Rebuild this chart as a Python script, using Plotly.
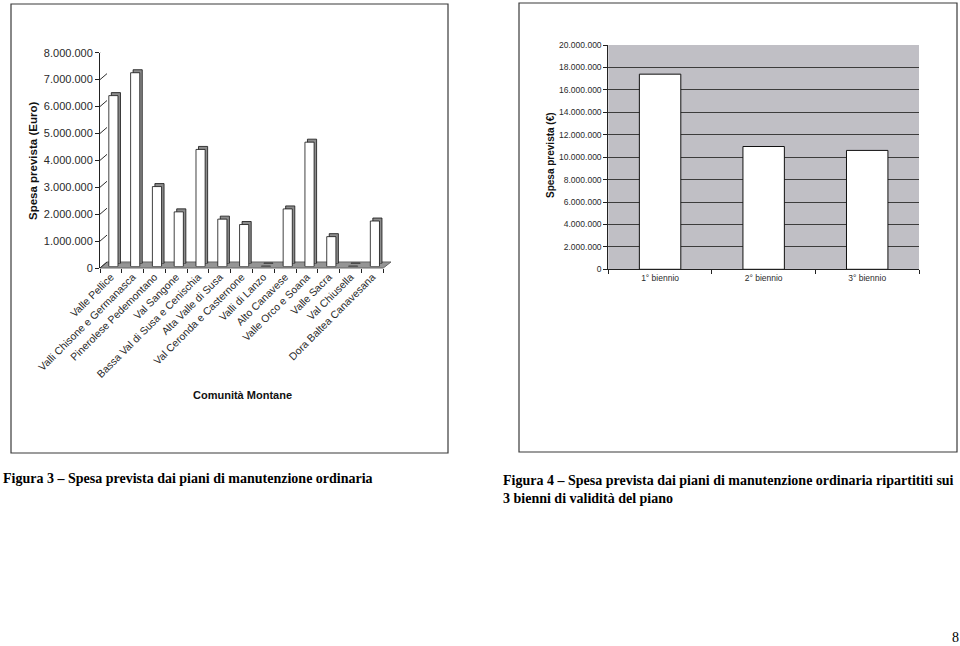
import plotly.graph_objects as go

W, H = 960, 646

# Figura 3 - spesa per Comunità Montana
comunita = [
    "Valle Pellice", "Valli Chisone e Germanasca", "Pinerolese Pedemontano",
    "Val Sangone", "Bassa Val di Susa e Cenischia", "Alta Valle di Susa",
    "Val Ceronda e Casternone", "Valli di Lanzo", "Alto Canavese",
    "Valle Orco e Soana", "Valle Sacra", "Val Chiusella", "Dora Baltea Canavesana",
]
spesa_comunita = [6350000, 7200000, 2970000, 2030000, 4350000, 1760000, 1560000,
                  15000, 2140000, 4620000, 1110000, 15000, 1690000]

# Figura 4 - spesa per biennio
bienni = ["1° biennio", "2° biennio", "3° biennio"]
spesa_bienni = [17400000, 10950000, 10600000]

FONT = "Arial, Liberation Sans, sans-serif"
SERIF = "Times New Roman, Liberation Serif, serif"


def hx(a, b):
    return [a / W, b / W]


def vy(top, bottom):
    return [1 - bottom / H, 1 - top / H]


def px(x, y):
    return f"{x / W:.5f},{1 - y / H:.5f}"


fig = go.Figure()

# depth of the 3D columns (offset copy behind the front faces)
fig.add_bar(x=comunita, y=spesa_comunita, xaxis="x2", yaxis="y2", width=0.42,
            marker=dict(color="#8c8c8c", line=dict(color="#111", width=0.8)))
# front faces
fig.add_bar(x=comunita, y=spesa_comunita, xaxis="x3", yaxis="y3", width=0.42,
            marker=dict(color="white", line=dict(color="#111", width=0.8)))
# carrier for the labelled axes
fig.add_bar(x=comunita, y=spesa_comunita, xaxis="x4", yaxis="y4", width=0.42,
            marker=dict(color="rgba(0,0,0,0)", line=dict(width=0)))
# right chart
fig.add_bar(x=bienni, y=spesa_bienni, xaxis="x5", yaxis="y5", width=0.4,
            marker=dict(color="white", line=dict(color="#111", width=1)))

hidden = dict(visible=False, fixedrange=True, automargin=False)
fig.update_layout(
    xaxis=dict(domain=hx(107, 391), anchor="y", **hidden),
    yaxis=dict(domain=vy(47, 262), anchor="x", range=[0, 8e6], dtick=1e6,
               showgrid=True, gridcolor="#2e2e2e", gridwidth=1, zeroline=False,
               showticklabels=False, ticks="", automargin=False),
    xaxis2=dict(domain=hx(105, 388.3), anchor="y2", range=[-0.5, 12.5], **hidden),
    yaxis2=dict(domain=vy(48.2, 263.5), anchor="x2", range=[0, 8e6], **hidden),
    xaxis3=dict(domain=hx(102.5, 385.8), anchor="y3", range=[-0.5, 12.5], **hidden),
    yaxis3=dict(domain=vy(51.2, 266.5), anchor="x3", range=[0, 8e6], **hidden),
    xaxis4=dict(domain=hx(100, 383.3), anchor="y4", range=[-0.5, 12.5],
                tickangle=-45, ticks="outside", tickson="boundaries", ticklen=4,
                tickcolor="#222", showline=False, showgrid=False, automargin=False,
                tickfont=dict(family=FONT, size=10.5, color="#2a2a2a")),
    yaxis4=dict(domain=vy(52.7, 268), anchor="x4", range=[0, 8e6], dtick=1e6,
                tickformat=",d", ticks="outside", ticklen=4, tickcolor="#222",
                showline=True, linecolor="#222", linewidth=1, showgrid=False,
                zeroline=False, automargin=False,
                tickfont=dict(family=FONT, size=11, color="#2a2a2a")),
    xaxis5=dict(domain=hx(608.3, 919), anchor="y5", ticks="outside",
                tickson="boundaries", ticklen=4, tickcolor="#222", showline=True,
                linecolor="#222", linewidth=1, showgrid=False, automargin=False,
                tickfont=dict(family=FONT, size=8.5, color="#2a2a2a")),
    yaxis5=dict(domain=vy(45, 269.3), anchor="x5", range=[0, 2e7], dtick=2e6,
                tickformat=",d", ticks="outside", ticklen=4, tickcolor="#222",
                showline=True, linecolor="#222", linewidth=1, showgrid=True,
                gridcolor="#3c3c3c", gridwidth=1, zeroline=False, automargin=False,
                tickfont=dict(family=FONT, size=8.5, color="#2a2a2a")),
)

shapes = [
    # frames around the two charts
    dict(type="rect", xref="paper", yref="paper", x0=11 / W, x1=448 / W,
         y0=1 - 453 / H, y1=1 - 4 / H, line=dict(color="#3a3a3a", width=1.2)),
    dict(type="rect", xref="paper", yref="paper", x0=519 / W, x1=957 / W,
         y0=1 - 452 / H, y1=1 - 3 / H, line=dict(color="#3a3a3a", width=1.2)),
    # back wall of the 3D chart
    dict(type="rect", xref="x domain", yref="y domain", x0=0, x1=1, y0=0, y1=1,
         fillcolor="#cdcdcd", line=dict(color="#8a8a8a", width=1), layer="below"),
    # floor
    dict(type="path", xref="paper", yref="paper", layer="below",
         path=f"M {px(100, 268)} L {px(383.3, 268)} L {px(391, 262)} L {px(107, 262)} Z",
         fillcolor="#959595", line=dict(color="#666", width=1)),
    # background of the right chart
    dict(type="rect", xref="x5 domain", yref="y5 domain", x0=0, x1=1, y0=0, y1=1,
         fillcolor="#c0bfc5", line=dict(width=0), layer="below"),
]
# side wall gridlines joining the value axis to the back wall
for v in range(0, 8000001, 1000000):
    shapes.append(dict(type="line", xref="x4 domain", yref="y4",
                       xsizemode="pixel", xanchor=0, x0=0, x1=7,
                       ysizemode="pixel", yanchor=v, y0=0, y1=6,
                       line=dict(color="#2e2e2e", width=1)))

annotations = [
    dict(text="<b>Spesa prevista (Euro)</b>", x=33 / W, y=1 - 161 / H, textangle=-90,
         font=dict(family=FONT, size=11.5, color="#111")),
    dict(text="<b>Comunità Montane</b>", x=242 / W, y=1 - 395 / H,
         font=dict(family=FONT, size=11, color="#111")),
    dict(text="<b>Spesa prevista (€)</b>", x=550 / W, y=1 - 155 / H, textangle=-90,
         font=dict(family=FONT, size=10, color="#111")),
    dict(text="<b>Figura 3 – Spesa prevista dai piani di manutenzione ordinaria</b>",
         x=1 / W, y=1 - 478 / H, xanchor="left",
         font=dict(family=SERIF, size=14, color="#000")),
    dict(text="<b>Figura 4 – Spesa prevista dai piani di manutenzione ordinaria ripartititi sui"
              "<br>3 bienni di validità del piano</b>",
         x=501 / W, y=1 - 471 / H, xanchor="left", yanchor="top", align="left",
         font=dict(family=SERIF, size=14, color="#000")),
    dict(text="8", x=955 / W, y=1 - 637 / H, font=dict(family=SERIF, size=14, color="#000")),
]
for a in annotations:
    a.setdefault("xref", "paper")
    a.setdefault("yref", "paper")
    a.setdefault("xanchor", "center")
    a.setdefault("yanchor", "middle")
    a.setdefault("showarrow", False)

fig.update_layout(
    shapes=shapes, annotations=annotations,
    width=W, height=H, margin=dict(l=0, r=0, t=0, b=0, autoexpand=False),
    paper_bgcolor="white", plot_bgcolor="rgba(0,0,0,0)",
    separators=",.", showlegend=False, hovermode=False,
    font=dict(family=FONT),
)

fig.write_html("out.html", config={"displayModeBar": False},
               post_script="document.body.style.margin='0';"
                           "document.body.style.overflow='hidden';")
